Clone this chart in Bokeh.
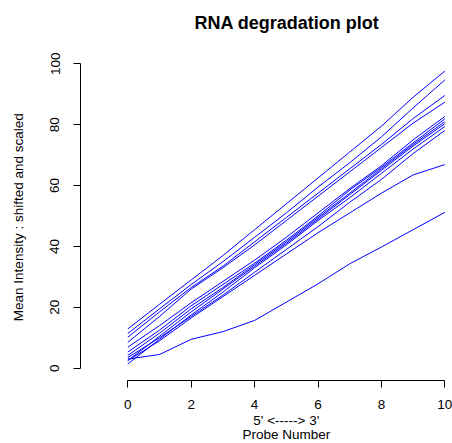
import math
from bokeh.plotting import figure
from bokeh.models import Range1d, FixedTicker, Label
from bokeh.embed import file_html
from bokeh.resources import INLINE

probe = [0, 1, 2, 3, 4, 5, 6, 7, 8, 9, 10]
x_ticks = [0, 2, 4, 6, 8, 10]
y_ticks = [0, 20, 40, 60, 80, 100]

u1 = [12.9, 21.0, 29.0, 37.0, 45.5, 54.0, 62.5, 71.0, 79.5, 89.0, 97.6]
u2 = [11.4, 19.5, 27.5, 35.0, 43.0, 51.0, 59.5, 67.5, 76.0, 85.5, 94.7]
u3 = [10.2, 18.5, 26.5, 33.5, 41.5, 49.5, 57.5, 65.5, 73.5, 82.0, 89.6]
u4 = [8.5, 17.0, 26.0, 33.0, 40.5, 48.5, 56.5, 64.5, 72.5, 80.5, 87.4]
m1 = [6.9, 14.0, 21.5, 28.5, 35.5, 43.0, 51.0, 59.0, 66.5, 75.0, 82.7]
m2 = [5.3, 12.5, 20.5, 27.5, 34.5, 42.0, 50.0, 58.5, 66.0, 74.0, 81.9]
m3 = [4.2, 11.5, 19.5, 26.5, 34.0, 41.5, 49.5, 57.5, 65.5, 73.5, 81.0]
m4 = [2.5, 10.5, 18.5, 26.0, 33.5, 41.0, 49.0, 57.0, 65.0, 73.0, 80.3]
m5 = [1.4, 9.5, 17.5, 25.0, 33.0, 40.5, 48.5, 56.0, 64.0, 72.0, 79.4]
m6 = [3.5, 10.0, 17.0, 24.0, 31.5, 39.0, 46.5, 54.5, 62.0, 70.5, 78.1]
l1 = [2.5, 9.0, 16.5, 23.5, 30.5, 37.5, 44.5, 51.0, 57.5, 63.5, 66.9]
l2 = [3.0, 4.5, 9.5, 12.0, 15.7, 21.7, 27.7, 34.3, 39.8, 45.5, 51.2]
series = [u1, u2, u3, u4, m1, m2, m3, m4, m5, m6, l1, l2]

FONT = "Liberation Sans"

p = figure(width=452, height=443, output_backend="svg", toolbar_location=None,
           x_range=Range1d(-4.0158, 10.2429), y_range=Range1d(-24.737, 120.8),
           min_border_left=0, min_border_right=0, min_border_top=0, min_border_bottom=0)
p.title = None
p.outline_line_color = None
p.grid.visible = False
p.background_fill_color = "white"
p.border_fill_color = "white"

for s in series:
    p.line(probe, s, line_color="#0000FF", line_width=1)

for ax, ticks, bnds in ((p.xaxis, x_ticks, (0, 10)), (p.yaxis, y_ticks, (0, 100))):
    ax.ticker = FixedTicker(ticks=ticks)
    ax.bounds = bnds
    ax.minor_tick_line_color = None
    ax.major_tick_in = 0
    ax.major_tick_out = 7
    ax.axis_line_color = "black"
    ax.major_tick_line_color = "black"
    ax.major_label_text_font = FONT
    ax.major_label_text_font_size = "13.5px"
    ax.major_label_text_color = "black"

p.xaxis.fixed_location = -4.0407
p.yaxis.fixed_location = -1.4921
p.xaxis.major_label_standoff = 12
p.yaxis.major_label_standoff = 14
p.yaxis.major_label_orientation = "vertical"

# title
p.add_layout(Label(x=5.02, y=113.4, text="RNA degradation plot", text_font=FONT,
                   text_font_style="bold", text_font_size="18px", text_align="center",
                   text_baseline="middle", text_color="black"))
# y axis label
p.add_layout(Label(x=-3.438, y=49.6, angle=math.pi / 2,
                   text="Mean Intensity : shifted and scaled", text_font=FONT,
                   text_font_size="13.5px", text_align="center", text_baseline="middle",
                   text_color="black"))
# x axis label lines
p.add_layout(Label(x=5.0, y=-17.3, text="5' <-----> 3'", text_font=FONT,
                   text_font_size="13.5px", text_align="center", text_baseline="middle",
                   text_color="black"))
p.add_layout(Label(x=5.0, y=-21.8, text="Probe Number", text_font=FONT,
                   text_font_size="13.5px", text_align="center", text_baseline="middle",
                   text_color="black"))

open("out.html", "w").write(file_html(p, INLINE))
